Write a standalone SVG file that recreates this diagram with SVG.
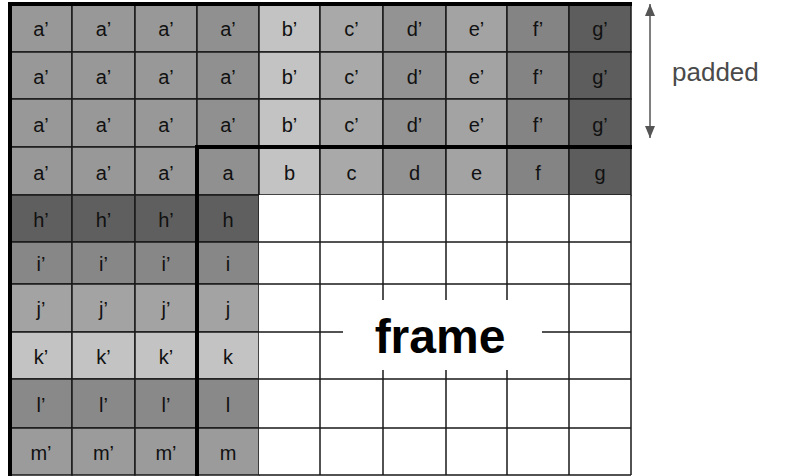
<svg xmlns="http://www.w3.org/2000/svg" width="790" height="476" viewBox="0 0 790 476">
<defs>
<style>
rect.c{stroke:#1a1a1a;stroke-width:1.5}
text.l{font-family:"Liberation Sans",Arial,sans-serif;font-size:20px;fill:#111;text-anchor:middle}
.A{fill:#989898}.A3{fill:#909090}.B{fill:#c3c3c3}.C{fill:#a9a9a9}.D{fill:#939393}.E{fill:#a3a3a3}.F{fill:#848484}.G{fill:#5d5d5d}
.H{fill:#5f5f5f}.I{fill:#878787}.J{fill:#a3a3a3}.K{fill:#c3c3c3}.L{fill:#898989}.M{fill:#9b9b9b}.W{fill:#ffffff}
line.thick{stroke:#000;stroke-width:4}
</style>
<marker id="ah" viewBox="0 0 12 10" refX="12" refY="5" markerWidth="12" markerHeight="10" markerUnits="userSpaceOnUse" orient="auto-start-reverse">
<path d="M0,0 L12,5 L0,10 Z" fill="#555"/>
</marker>
</defs>
<rect width="790" height="476" fill="#fff"/>

<!-- row 0 -->
<g id="r0c0"><rect class="c A" x="10" y="3" width="62" height="49"/><text class="l" x="41" y="36">a’</text></g>
<g id="r0c1"><rect class="c A" x="72" y="3" width="63" height="49"/><text class="l" x="103.5" y="36">a’</text></g>
<g id="r0c2"><rect class="c A" x="135" y="3" width="62" height="49"/><text class="l" x="166" y="36">a’</text></g>
<g id="r0c3"><rect class="c A3" x="197" y="3" width="62" height="49"/><text class="l" x="228" y="36">a’</text></g>
<g id="r0c4"><rect class="c B" x="259" y="3" width="61" height="49"/><text class="l" x="289.5" y="36">b’</text></g>
<g id="r0c5"><rect class="c C" x="320" y="3" width="63" height="49"/><text class="l" x="351.5" y="36">c’</text></g>
<g id="r0c6"><rect class="c D" x="383" y="3" width="63" height="49"/><text class="l" x="414.5" y="36">d’</text></g>
<g id="r0c7"><rect class="c E" x="446" y="3" width="61" height="49"/><text class="l" x="476.5" y="36">e’</text></g>
<g id="r0c8"><rect class="c F" x="507" y="3" width="62" height="49"/><text class="l" x="538" y="36">f’</text></g>
<g id="r0c9"><rect class="c G" x="569" y="3" width="62" height="49"/><text class="l" x="600" y="36">g’</text></g>

<!-- row 1 -->
<g id="r1c0"><rect class="c A" x="10" y="52" width="62" height="47"/><text class="l" x="41" y="84">a’</text></g>
<g id="r1c1"><rect class="c A" x="72" y="52" width="63" height="47"/><text class="l" x="103.5" y="84">a’</text></g>
<g id="r1c2"><rect class="c A" x="135" y="52" width="62" height="47"/><text class="l" x="166" y="84">a’</text></g>
<g id="r1c3"><rect class="c A3" x="197" y="52" width="62" height="47"/><text class="l" x="228" y="84">a’</text></g>
<g id="r1c4"><rect class="c B" x="259" y="52" width="61" height="47"/><text class="l" x="289.5" y="84">b’</text></g>
<g id="r1c5"><rect class="c C" x="320" y="52" width="63" height="47"/><text class="l" x="351.5" y="84">c’</text></g>
<g id="r1c6"><rect class="c D" x="383" y="52" width="63" height="47"/><text class="l" x="414.5" y="84">d’</text></g>
<g id="r1c7"><rect class="c E" x="446" y="52" width="61" height="47"/><text class="l" x="476.5" y="84">e’</text></g>
<g id="r1c8"><rect class="c F" x="507" y="52" width="62" height="47"/><text class="l" x="538" y="84">f’</text></g>
<g id="r1c9"><rect class="c G" x="569" y="52" width="62" height="47"/><text class="l" x="600" y="84">g’</text></g>

<!-- row 2 -->
<g id="r2c0"><rect class="c A" x="10" y="99" width="62" height="48"/><text class="l" x="41" y="132">a’</text></g>
<g id="r2c1"><rect class="c A" x="72" y="99" width="63" height="48"/><text class="l" x="103.5" y="132">a’</text></g>
<g id="r2c2"><rect class="c A" x="135" y="99" width="62" height="48"/><text class="l" x="166" y="132">a’</text></g>
<g id="r2c3"><rect class="c A3" x="197" y="99" width="62" height="48"/><text class="l" x="228" y="132">a’</text></g>
<g id="r2c4"><rect class="c B" x="259" y="99" width="61" height="48"/><text class="l" x="289.5" y="132">b’</text></g>
<g id="r2c5"><rect class="c C" x="320" y="99" width="63" height="48"/><text class="l" x="351.5" y="132">c’</text></g>
<g id="r2c6"><rect class="c D" x="383" y="99" width="63" height="48"/><text class="l" x="414.5" y="132">d’</text></g>
<g id="r2c7"><rect class="c E" x="446" y="99" width="61" height="48"/><text class="l" x="476.5" y="132">e’</text></g>
<g id="r2c8"><rect class="c F" x="507" y="99" width="62" height="48"/><text class="l" x="538" y="132">f’</text></g>
<g id="r2c9"><rect class="c G" x="569" y="99" width="62" height="48"/><text class="l" x="600" y="132">g’</text></g>

<!-- row 3 -->
<g id="r3c0"><rect class="c A" x="10" y="147" width="62" height="48"/><text class="l" x="41" y="180">a’</text></g>
<g id="r3c1"><rect class="c A" x="72" y="147" width="63" height="48"/><text class="l" x="103.5" y="180">a’</text></g>
<g id="r3c2"><rect class="c A" x="135" y="147" width="62" height="48"/><text class="l" x="166" y="180">a’</text></g>
<g id="r3c3"><rect class="c A3" x="197" y="147" width="62" height="48"/><text class="l" x="228" y="180">a</text></g>
<g id="r3c4"><rect class="c B" x="259" y="147" width="61" height="48"/><text class="l" x="289.5" y="180">b</text></g>
<g id="r3c5"><rect class="c C" x="320" y="147" width="63" height="48"/><text class="l" x="351.5" y="180">c</text></g>
<g id="r3c6"><rect class="c D" x="383" y="147" width="63" height="48"/><text class="l" x="414.5" y="180">d</text></g>
<g id="r3c7"><rect class="c E" x="446" y="147" width="61" height="48"/><text class="l" x="476.5" y="180">e</text></g>
<g id="r3c8"><rect class="c F" x="507" y="147" width="62" height="48"/><text class="l" x="538" y="180">f</text></g>
<g id="r3c9"><rect class="c G" x="569" y="147" width="62" height="48"/><text class="l" x="600" y="180">g</text></g>

<!-- rows 4-9 left padded cells -->
<g id="r4c0"><rect class="c H" x="10" y="195" width="62" height="47"/><text class="l" x="41" y="227">h’</text></g>
<g id="r4c1"><rect class="c H" x="72" y="195" width="63" height="47"/><text class="l" x="103.5" y="227">h’</text></g>
<g id="r4c2"><rect class="c H" x="135" y="195" width="62" height="47"/><text class="l" x="166" y="227">h’</text></g>
<g id="r4c3"><rect class="c H" x="197" y="195" width="62" height="47"/><text class="l" x="228" y="227">h</text></g>

<g id="r5c0"><rect class="c I" x="10" y="242" width="62" height="42"/><text class="l" x="41" y="271">i’</text></g>
<g id="r5c1"><rect class="c I" x="72" y="242" width="63" height="42"/><text class="l" x="103.5" y="271">i’</text></g>
<g id="r5c2"><rect class="c I" x="135" y="242" width="62" height="42"/><text class="l" x="166" y="271">i’</text></g>
<g id="r5c3"><rect class="c I" x="197" y="242" width="62" height="42"/><text class="l" x="228" y="271">i</text></g>

<g id="r6c0"><rect class="c J" x="10" y="284" width="62" height="48"/><text class="l" x="41" y="316">j’</text></g>
<g id="r6c1"><rect class="c J" x="72" y="284" width="63" height="48"/><text class="l" x="103.5" y="316">j’</text></g>
<g id="r6c2"><rect class="c J" x="135" y="284" width="62" height="48"/><text class="l" x="166" y="316">j’</text></g>
<g id="r6c3"><rect class="c J" x="197" y="284" width="62" height="48"/><text class="l" x="228" y="316">j</text></g>

<g id="r7c0"><rect class="c K" x="10" y="332" width="62" height="47"/><text class="l" x="41" y="364">k’</text></g>
<g id="r7c1"><rect class="c K" x="72" y="332" width="63" height="47"/><text class="l" x="103.5" y="364">k’</text></g>
<g id="r7c2"><rect class="c K" x="135" y="332" width="62" height="47"/><text class="l" x="166" y="364">k’</text></g>
<g id="r7c3"><rect class="c K" x="197" y="332" width="62" height="47"/><text class="l" x="228" y="364">k</text></g>

<g id="r8c0"><rect class="c L" x="10" y="379" width="62" height="49"/><text class="l" x="41" y="412">l’</text></g>
<g id="r8c1"><rect class="c L" x="72" y="379" width="63" height="49"/><text class="l" x="103.5" y="412">l’</text></g>
<g id="r8c2"><rect class="c L" x="135" y="379" width="62" height="49"/><text class="l" x="166" y="412">l’</text></g>
<g id="r8c3"><rect class="c L" x="197" y="379" width="62" height="49"/><text class="l" x="228" y="412">l</text></g>

<g id="r9c0"><rect class="c M" x="10" y="428" width="62" height="47"/><text class="l" x="41" y="460">m’</text></g>
<g id="r9c1"><rect class="c M" x="72" y="428" width="63" height="47"/><text class="l" x="103.5" y="460">m’</text></g>
<g id="r9c2"><rect class="c M" x="135" y="428" width="62" height="47"/><text class="l" x="166" y="460">m’</text></g>
<g id="r9c3"><rect class="c M" x="197" y="428" width="62" height="47"/><text class="l" x="228" y="460">m</text></g>

<!-- frame (white cells) -->
<g id="frame">
<rect x="259" y="195" width="372" height="280" fill="#fff"/>
<g stroke="#1a1a1a" stroke-width="1.5" fill="none">
<path d="M320,195V475M383,195V475M446,195V475M507,195V475M569,195V475M631,195V475"/>
<path d="M259,242H631M259,284H631M259,332H631M259,379H631M259,428H631M259,475H631"/>
</g>
<rect x="343" y="300" width="199" height="70" fill="#fff"/>
<text x="440" y="353" font-family="'Liberation Sans',Arial,sans-serif" font-size="48" font-weight="bold" text-anchor="middle" fill="#000">frame</text>
</g>

<!-- thick borders -->
<g id="borders">
<line class="thick" x1="8" y1="4" x2="632" y2="4"/>
<line class="thick" x1="10" y1="2" x2="10" y2="476"/>
<line class="thick" x1="195" y1="147" x2="632" y2="147"/>
<line class="thick" x1="197" y1="145" x2="197" y2="476"/>
</g>

<!-- connectors -->
<g id="connectors">
<line x1="650" y1="4" x2="650" y2="138" stroke="#555" stroke-width="1.5" marker-start="url(#ah)" marker-end="url(#ah)"/>
</g>

<g id="padded-label">
<text x="672" y="81" font-family="'Liberation Sans',Arial,sans-serif" font-size="26" fill="#4a4a4a">padded</text>
</g>
</svg>
